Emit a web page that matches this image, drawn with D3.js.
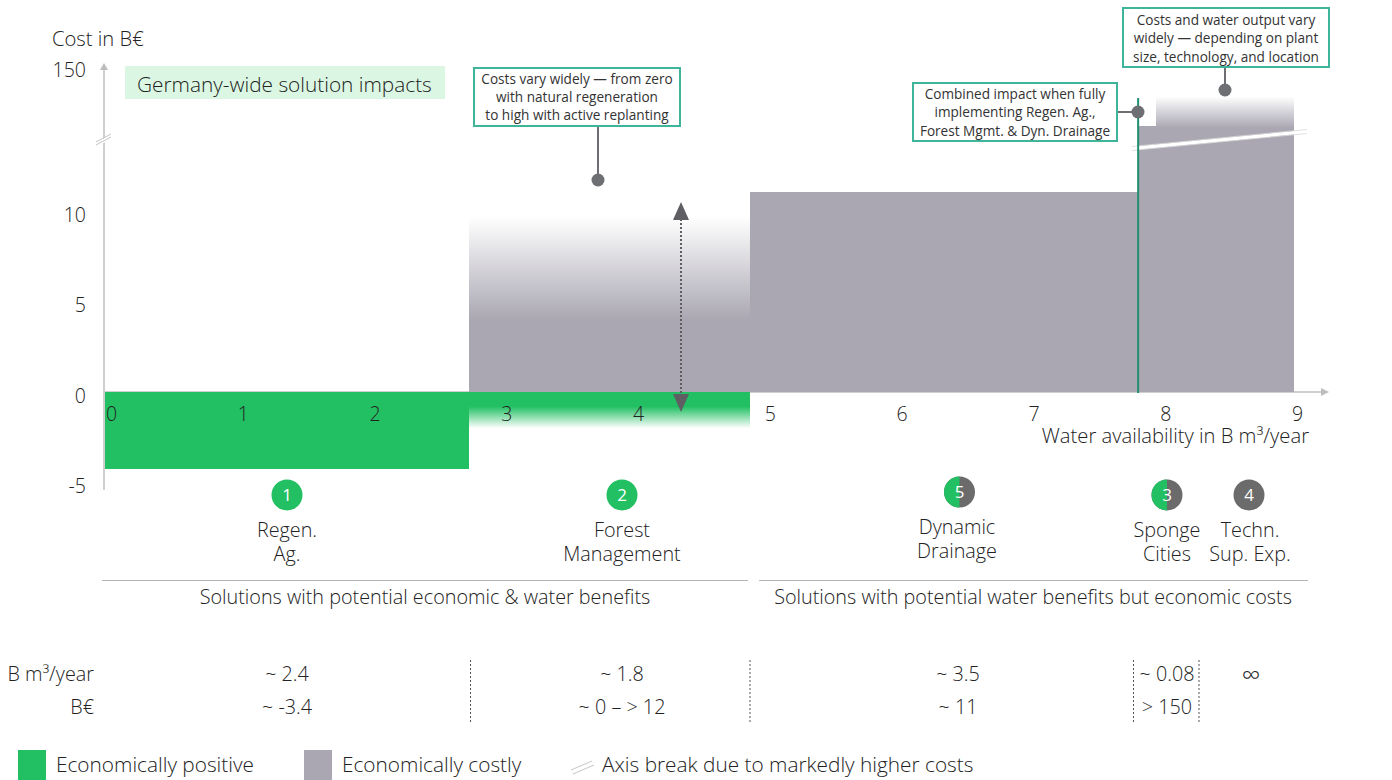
<!DOCTYPE html>
<html>
<head>
<script src="https://d3js.org/d3.v7.min.js"></script>
<style>
	html, body { margin: 0; padding: 0; background: #fff; }
	svg { display: block; }
	text { font-family: 'Open Sans', sans-serif; font-weight: 300; fill: #222; font-size: 19.8px; }
	.note { font-size: 13.6px; font-weight: 400; fill: #333; }
	.axis text { font-size: 19.5px; font-family: 'Open Sans', sans-serif; }
	.badge { font-size: 17px; font-weight: 400; fill: #fff; }
	.legend { font-size: 20.8px; }
</style>
</head>
<body>
<div id="chart"></div>
<script>
	// axis ticks
	var xTicks = [0, 1, 2, 3, 4, 5, 6, 7, 8, 9];
	var yTicks = [-5, 0, 5, 10, 150];

	var barNames = ["Regen. Ag.", "Forest Management", "Dynamic Drainage", "Sponge Cities", "Techn. Sup. Exp."];
	var barStart = [0, 2.76, 4.895, 7.84, 7.975];
	var barEnd = [2.76, 4.895, 7.84, 7.975, 9.02];
	var barTop = [0, 9.7, 11.05, 25.6, 87];
	var barFade = [0, 4, 11.05, 25.6, 22];
	var barBottom = [-4.25, 0, 0, 0, 0];

	// green part of forest management
	var forestBenefit = [-2, -0.8];

	// solutions under the axis
	var solutionNum = ["1", "2", "5", "3", "4"];
	var solutionLine1 = ["Regen.", "Forest", "Dynamic", "Sponge", "Techn."];
	var solutionLine2 = ["Ag.", "Management", "Drainage", "Cities", "Sup. Exp."];
	var solutionKind = ["pos", "pos", "mix", "mix", "cost"];

	// table under the chart
	var rowNames = ["B m³/year", "B€"];
	var waterValues = ["~ 2.4", "~ 1.8", "~ 3.5", "~ 0.08", "∞"];
	var costValues = ["~ -3.4", "~ 0 – > 12", "~ 11", "> 150", ""];

	var groupNames = ["Solutions with potential economic & water benefits", "Solutions with potential water benefits but economic costs"];
	var legendNames = ["Economically positive", "Economically costly", "Axis break due to markedly higher costs"];

	var green = "#22c063", grey = "#aaa7b2", dark = "#6b6b6b", teal = "#3eb59a", dot = "#6e6f73";

	var svg = d3.select("#chart").append("svg").attr("width", 1392).attr("height", 780);

	var x = d3.scaleLinear().domain([0, 9]).range([105, 1291]);
	var y = d3.scaleLinear().domain([-5, 14.4, 150]).range([482.5, 131.4, 66]);

	// gradients: the colour pads past yFrom, so one rect does both the solid and the fading part
	var defs = svg.append("defs");
	function fadeGrad(id, color, yFrom, yTo) {
		var g = defs.append("linearGradient").attr("id", id)
			.attr("gradientUnits", "userSpaceOnUse")
			.attr("x1", 0).attr("x2", 0).attr("y1", yFrom).attr("y2", yTo);
		g.append("stop").attr("offset", 0).attr("stop-color", color);
		g.append("stop").attr("offset", 1).attr("stop-color", color).attr("stop-opacity", 0);
		return "url(#" + id + ")";
	}

	// axes lines
	var axisCol = "#cfcfcf";
	svg.append("line").attr("x1", 104).attr("x2", 104).attr("y1", 70).attr("y2", 490)
		.attr("stroke", axisCol).attr("stroke-width", 2);
	svg.append("path").attr("d", "M104,63L100,70L108,70Z").attr("fill", "#bdbdbd");
	svg.append("line").attr("x1", 104).attr("x2", 1322).attr("y1", 392).attr("y2", 392)
		.attr("stroke", axisCol).attr("stroke-width", 2);
	svg.append("path").attr("d", "M1329,392L1321,388L1321,396Z").attr("fill", "#bdbdbd");

	// bars
	barNames.forEach(function(name, i) {
		var fill = i === 0 ? green : grey;
		if (barFade[i] !== barTop[i] && barTop[i] > 0) {
			fill = fadeGrad("fade" + i, grey, y(barFade[i]), y(barTop[i]));
		}
		svg.append("rect")
			.attr("x", x(barStart[i])).attr("width", x(barEnd[i]) - x(barStart[i]))
			.attr("y", y(barTop[i])).attr("height", y(barBottom[i]) - y(barTop[i]))
			.attr("shape-rendering", "crispEdges")
			.attr("fill", fill);
	});

	// forest green part with fade
	svg.append("rect")
		.attr("x", x(barStart[1])).attr("width", x(barEnd[1]) - x(barStart[1]))
		.attr("y", y(0)).attr("height", y(forestBenefit[0]) - y(0))
		.attr("shape-rendering", "crispEdges")
		.attr("fill", fadeGrad("fadeGreen", green, y(forestBenefit[1]), y(forestBenefit[0])));

	// axis break across the bars
	svg.append("path").attr("d", "M1132,148.5L1307,131.5").attr("stroke", "#fff").attr("stroke-width", 3.5).attr("fill", "none");
	svg.append("path").attr("d", "M1132,146.5L1307,129.5M1132,150.5L1307,133.5").attr("stroke", "#d9d9d9").attr("stroke-width", 0.8).attr("fill", "none");

	// break on y axis
	svg.append("path").attr("d", "M97,144L111,137").attr("stroke", "#fff").attr("stroke-width", 4);
	svg.append("path").attr("d", "M96,142L111,134M96,145L111,137").attr("stroke", "#c4c4c4").attr("stroke-width", 1);

	// tick labels through the axes
	var xAxis = svg.append("g").attr("class", "axis").attr("transform", "translate(6,392)")
		.call(d3.axisBottom(x).tickValues(xTicks).tickSize(0).tickPadding(15));
	xAxis.select(".domain").remove();
	var yAxis = svg.append("g").attr("class", "axis").attr("transform", "translate(86,4)")
		.call(d3.axisLeft(y).tickValues(yTicks).tickSize(0).tickPadding(0).tickFormat(String));
	yAxis.select(".domain").remove();

	svg.append("text").attr("x", 52).attr("y", 46).style("font-size", "20.2px").text("Cost in B€");
	svg.append("text").attr("x", 1309).attr("y", 443).attr("text-anchor", "end").style("font-size", "20.2px").text("Water availability in B m³/year");

	// title chip
	svg.append("rect").attr("x", 125).attr("y", 66).attr("width", 320).attr("height", 33).attr("fill", "#dbf7e3");
	svg.append("text").attr("x", 137).attr("y", 92).style("font-size", "20.8px").text("Germany-wide solution impacts");

	// combined line
	svg.append("line").attr("x1", x(7.84)).attr("x2", x(7.84)).attr("y1", 98).attr("y2", 393)
		.attr("stroke", "#1f8f70").attr("stroke-width", 2);

	// dotted range arrow
	var arrowCol = "#5f5f63";
	svg.append("line").attr("x1", 681).attr("x2", 681).attr("y1", 215).attr("y2", 400)
		.attr("stroke", arrowCol).attr("stroke-width", 2).attr("stroke-dasharray", "2,2");
	svg.append("path").attr("d", "M681,202L673,220L689,220Z").attr("fill", arrowCol);
	svg.append("path").attr("d", "M681,412L673,394L689,394Z").attr("fill", arrowCol);

	// callouts
	function callout(bx, by, bw, bh, lines, path, dx, dy, textY) {
		svg.append("path").attr("d", path).attr("stroke", dot).attr("stroke-width", 2).attr("fill", "none");
		svg.append("circle").attr("cx", dx).attr("cy", dy).attr("r", 6.5).attr("fill", dot);
		svg.append("rect").attr("x", bx).attr("y", by).attr("width", bw).attr("height", bh)
			.attr("fill", "#fff").attr("stroke", teal).attr("stroke-width", 2);
		var t = svg.append("text").attr("class", "note").attr("text-anchor", "middle").attr("y", textY);
		lines.forEach(function(line, i) {
			t.append("tspan").attr("x", bx + bw / 2).attr("dy", i ? 18.3 : 0).text(line);
		});
	}
	callout(474, 68, 206, 58, ["Costs vary widely — from zero", "with natural regeneration", "to high with active replanting"], "M598,126V180", 598, 180, 83.5);
	callout(913, 83, 204, 58, ["Combined impact when fully", "implementing Regen. Ag.,", "Forest Mgmt. & Dyn. Drainage"], "M1117,112H1138", 1138, 112, 99);
	callout(1123, 8, 206, 59, ["Costs and water output vary", "widely — depending on plant", "size, technology, and location"], "M1225,67V90", 1225, 90, 25);

	// solution badges
	var badgeX = [287, 622, 959.5, 1167, 1249];
	var badgeY = [495, 495, 492, 495, 495];
	var labelY = [536.5, 536.5, 534, 536.5, 536.5];
	var labelX = [287, 622, 957, 1167, 1250];
	solutionNum.forEach(function(num, i) {
		var g = svg.append("g").attr("transform", "translate(" + badgeX[i] + "," + badgeY[i] + ")");
		var r = 15.5;
		if (solutionKind[i] === "mix") {
			g.append("circle").attr("r", r).attr("fill", dark);
			g.append("path").attr("d", "M0," + (-r) + "A" + r + "," + r + " 0 0 0 0," + r + "Z").attr("fill", green);
		} else {
			g.append("circle").attr("r", r).attr("fill", solutionKind[i] === "pos" ? green : dark);
		}
		g.append("text").attr("class", "badge").attr("text-anchor", "middle").attr("y", 6).text(num);
		var label = svg.append("text").attr("y", labelY[i]).attr("text-anchor", "middle");
		label.append("tspan").attr("x", labelX[i]).text(solutionLine1[i]);
		label.append("tspan").attr("x", labelX[i]).attr("dy", 24).text(solutionLine2[i]);
	});

	// group rules
	var ruleX = [[102, 748], [759, 1308]];
	var captionX = [425, 1033];
	groupNames.forEach(function(name, i) {
		svg.append("line").attr("x1", ruleX[i][0]).attr("x2", ruleX[i][1]).attr("y1", 580.5).attr("y2", 580.5)
			.attr("stroke", "#b5b5b5").attr("stroke-width", 1);
		svg.append("text").attr("x", captionX[i]).attr("y", 604).attr("text-anchor", "middle").text(name);
	});

	// table
	var colX = [287, 622, 958, 1167, 1251];
	var rowY = [681, 714];
	rowNames.forEach(function(name, i) {
		svg.append("text").attr("x", 94).attr("y", rowY[i]).attr("text-anchor", "end").text(name);
	});
	waterValues.forEach(function(v, i) {
		svg.append("text").attr("x", colX[i]).attr("y", v === "∞" ? rowY[0] + 3 : rowY[0]).attr("text-anchor", "middle")
			.style("font-size", v === "∞" ? "26px" : null).text(v);
		svg.append("text").attr("x", colX[i]).attr("y", rowY[1]).attr("text-anchor", "middle").text(costValues[i]);
	});
	[470.5, 750, 1133.5, 1199].forEach(function(px) {
		svg.append("line").attr("x1", px).attr("x2", px).attr("y1", 660).attr("y2", 722)
			.attr("stroke", "#555").attr("stroke-width", 1).attr("stroke-dasharray", "2,2");
	});

	// legend
	svg.append("rect").attr("x", 18).attr("y", 750).attr("width", 28).attr("height", 30).attr("fill", green);
	svg.append("rect").attr("x", 304).attr("y", 750).attr("width", 28).attr("height", 30).attr("fill", grey);
	svg.append("path").attr("d", "M571,770L592,761M573,774L594,765").attr("stroke", "#cfcfcf").attr("stroke-width", 1.2);
	[56, 342, 602].forEach(function(px, i) {
		svg.append("text").attr("class", "legend").attr("x", px).attr("y", 772).text(legendNames[i]);
	});
</script>
</body>
</html>
